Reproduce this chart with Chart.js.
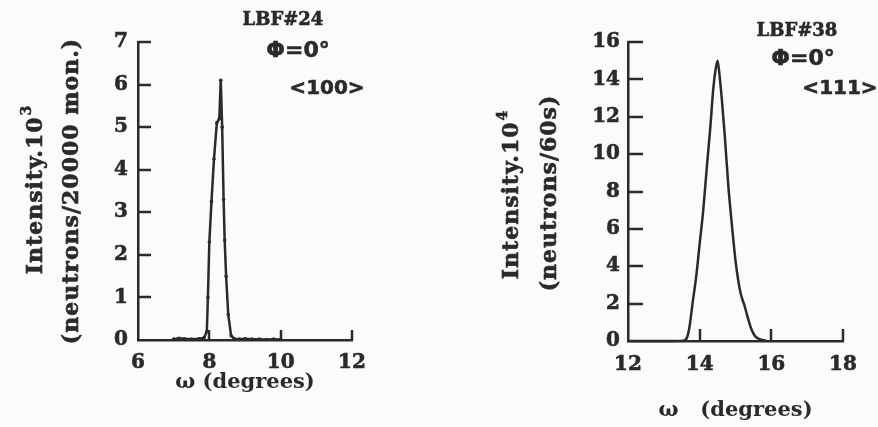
<!DOCTYPE html>
<html><head><meta charset="utf-8">
<script src="https://cdn.jsdelivr.net/npm/chart.js@4/dist/chart.umd.min.js"></script>
<style>
html,body{margin:0;padding:0;background:#fbfbf9;}
#wrap{position:relative;width:878px;height:427px;overflow:hidden;background:#fbfbf9;}
canvas{position:absolute;top:0;}
#c1{left:0;} #c2{left:440px;}
</style></head><body>
<div id="wrap">
<canvas id="c1" width="440" height="427"></canvas>
<canvas id="c2" width="438" height="427"></canvas>
</div>
<script>
// ---- data: left panel (LBF#24, <100>) ----
const leftOmega = [7.0, 7.15, 7.3, 7.5, 7.7, 7.85, 7.93, 7.96, 8.0, 8.06, 8.13, 8.21, 8.28, 8.32, 8.36, 8.40, 8.43, 8.47, 8.53, 8.61, 8.7, 8.85, 9.0, 9.2, 9.4, 9.6, 9.8, 10.0];
const leftIntensity = [0.02, 0.04, 0.03, 0.02, 0.03, 0.05, 0.2, 1.0, 2.3, 3.25, 4.25, 5.1, 5.2, 6.1, 5.0, 3.3, 2.35, 1.5, 0.6, 0.1, 0.03, 0.02, 0.03, 0.02, 0.02, 0.01, 0.02, 0.01];
const leftXTicks = [6, 8, 10, 12];
const leftYTicks = [0, 1, 2, 3, 4, 5, 6, 7];

// ---- data: right panel (LBF#38, <111>) ----
const rightOmega = [12.0, 12.5, 13.0, 13.3, 13.55, 13.65, 13.72, 13.8, 13.9, 14.0, 14.1, 14.2, 14.3, 14.38, 14.45, 14.5, 14.55, 14.62, 14.7, 14.8, 14.9, 15.0, 15.08, 15.15, 15.25, 15.35, 15.45, 15.55, 15.7, 15.85];
const rightIntensity = [0, 0, 0, 0, 0.02, 0.2, 0.8, 2.0, 3.4, 5.2, 7.0, 9.3, 11.5, 13.5, 14.6, 15.0, 14.3, 12.9, 11.0, 8.3, 6.2, 4.3, 3.2, 2.5, 1.9, 1.2, 0.6, 0.25, 0.08, 0.02];
const rightXTicks = [12, 14, 16, 18];
const rightYTicks = [0, 2, 4, 6, 8, 10, 12, 14, 16];

// ---- text ----
const leftYTitle = ['Intensity.10', '3', '(neutrons/20000 mon.)'];
const rightYTitle = ['Intensity.10', '4', '(neutrons/60s)'];
const leftNotes = ['LBF#24', 'Φ=0°', '<100>'];
const rightNotes = ['LBF#38', 'Φ=0°', '<111>'];
const xTitleLeft = 'ω (degrees)';
const xTitleRight = 'ω   (degrees)';

const INK = '#2a2a2a';
const SERIF = '"DejaVu Serif", serif';
const SANS = '"DejaVu Sans", sans-serif';

function fillStroke(ctx, t, x, y) {
  ctx.fillText(t, x, y);
  ctx.strokeText(t, x, y);
}

function rotText(ctx, main, sup, cx, cy, supDy, font, supFont) {
  ctx.save();
  ctx.translate(cx, cy);
  ctx.rotate(-Math.PI / 2);
  ctx.fillStyle = INK;
  ctx.strokeStyle = INK;
  ctx.lineWidth = 0.6;
  ctx.textBaseline = 'middle';
  ctx.textAlign = 'left';
  ctx.font = font;
  const w1 = ctx.measureText(main).width;
  let w2 = 0;
  if (sup) { ctx.font = supFont; w2 = ctx.measureText(sup).width; }
  const x0 = -(w1 + w2) / 2;
  ctx.font = font;
  fillStroke(ctx, main, x0, 0);
  if (sup) { ctx.font = supFont; fillStroke(ctx, sup, x0 + w1 + 1, supDy); }
  ctx.restore();
}

function makePanel(id, cfg) {
  const points = cfg.xs.map((x, i) => ({x: x, y: cfg.ys[i]}));
  const decor = {
    id: 'decor' + id,
    afterDraw(chart) {
      const ctx = chart.ctx;
      const xs = chart.scales.x, ys = chart.scales.y;
      const a = chart.chartArea;
      ctx.save();
      ctx.strokeStyle = INK;
      ctx.lineWidth = 2.5;
      ctx.lineCap = 'butt';
      cfg.yTicks.forEach(v => {
        if (v === cfg.yMin) return;
        const p = Math.round(ys.getPixelForValue(v));
        ctx.beginPath(); ctx.moveTo(a.left, p); ctx.lineTo(a.left + cfg.yTickLen, p); ctx.stroke();
      });
      cfg.xTicks.forEach(v => {
        if (v === cfg.xMin) return;
        const p = Math.round(xs.getPixelForValue(v));
        ctx.beginPath(); ctx.moveTo(p, a.bottom); ctx.lineTo(p, a.bottom - cfg.xTickLen); ctx.stroke();
      });
      ctx.restore();
      // y title (two lines, rotated)
      ctx.save();
      ctx.letterSpacing = cfg.titleSpacing;
      rotText(ctx, cfg.yTitle[0], cfg.yTitle[1], cfg.t1x, cfg.t1y, cfg.supDy,
        'bold 22px ' + SERIF, 'bold 14px ' + SERIF);
      rotText(ctx, cfg.yTitle[2], '', cfg.t2x, cfg.t2y, 0, 'bold 22px ' + SERIF, '');
      ctx.restore();
      // annotations
      ctx.save();
      ctx.fillStyle = INK;
      ctx.strokeStyle = INK;
      ctx.lineWidth = 0.6;
      ctx.textAlign = 'center';
      ctx.textBaseline = 'middle';
      ctx.font = 'bold 18px ' + SERIF;
      fillStroke(ctx, cfg.notes[0], cfg.n[0][0], cfg.n[0][1]);
      ctx.font = 'bold 22px ' + SANS;
      fillStroke(ctx, cfg.notes[1], cfg.n[1][0], cfg.n[1][1]);
      ctx.font = 'bold 20px ' + SANS;
      fillStroke(ctx, cfg.notes[2], cfg.n[2][0], cfg.n[2][1]);
      ctx.restore();
    }
  };
  return new Chart(document.getElementById(id), {
    type: 'line',
    data: {
      datasets: [{
        data: points,
        borderColor: INK,
        backgroundColor: INK,
        borderWidth: 2.5,
        pointRadius: cfg.pointRadius,
        pointBorderWidth: 0,
        tension: cfg.smooth ? 0.4 : 0,
        cubicInterpolationMode: cfg.smooth ? 'monotone' : 'default',
        fill: false,
        clip: false
      }]
    },
    options: {
      responsive: false,
      animation: false,
      events: [],
      layout: {padding: cfg.pad},
      plugins: {legend: {display: false}, tooltip: {enabled: false}},
      scales: {
        x: {
          type: 'linear', min: cfg.xMin, max: cfg.xMax,
          afterBuildTicks: s => { s.ticks = cfg.xTicks.map(v => ({value: v})); },
          afterFit: s => { s.height = cfg.xAxisH; },
          grid: {color: 'rgba(0,0,0,0)', drawTicks: false},
          border: {display: true, color: INK, width: 2.5},
          ticks: {color: INK, font: {family: SERIF, size: 20, weight: 'bold'}, padding: cfg.xTickPad,
            maxRotation: 0, autoSkip: false, textStrokeColor: INK, textStrokeWidth: 0.6},
          title: {display: true, text: cfg.xTitle, color: INK,
            font: {family: SERIF, size: 21, weight: 'bold'},
            padding: {top: 0, bottom: cfg.xTitlePad}}
        },
        y: {
          type: 'linear', min: cfg.yMin, max: cfg.yMax,
          afterBuildTicks: s => { s.ticks = cfg.yTicks.map(v => ({value: v})); },
          afterFit: s => { s.width = cfg.yAxisW; },
          grid: {color: 'rgba(0,0,0,0)', drawTicks: false},
          border: {display: true, color: INK, width: 2.5},
          ticks: {color: INK, font: {family: SERIF, size: 20, weight: 'bold'}, padding: cfg.yTickPad,
            autoSkip: false, textStrokeColor: INK, textStrokeWidth: 0.6}
        }
      }
    },
    plugins: [decor]
  });
}

makePanel('c1', {
  xs: leftOmega, ys: leftIntensity, xTicks: leftXTicks, yTicks: leftYTicks,
  xMin: 6, xMax: 12, yMin: 0, yMax: 7,
  pad: {left: 0, right: 88, top: 42, bottom: 0},
  xAxisH: 87, yAxisW: 138, xTickPad: 11, yTickPad: 10,
  yTickLen: 13, xTickLen: 10, pointRadius: 1.8, smooth: false,
  xTitle: xTitleLeft, xTitlePad: 32,
  yTitle: leftYTitle, t1x: 36, t1y: 190, t2x: 72, t2y: 191, supDy: -9, titleSpacing: '1px',
  notes: leftNotes, n: [[283, 20], [298, 51], [327, 89]]
});

makePanel('c2', {
  xs: rightOmega, ys: rightIntensity, xTicks: rightXTicks, yTicks: rightYTicks,
  xMin: 12, xMax: 18, yMin: 0, yMax: 16,
  pad: {left: 0, right: 35, top: 42, bottom: 0},
  xAxisH: 86, yAxisW: 188, xTickPad: 12, yTickPad: 8,
  yTickLen: 15, xTickLen: 12, pointRadius: 0, smooth: true,
  xTitle: xTitleRight, xTitlePad: 4,
  yTitle: rightYTitle, t1x: 72, t1y: 195, t2x: 110, t2y: 193, supDy: -9, titleSpacing: '1px',
  notes: rightNotes, n: [[357, 31], [363, 59], [400, 89]]
});
</script>
</body></html>
